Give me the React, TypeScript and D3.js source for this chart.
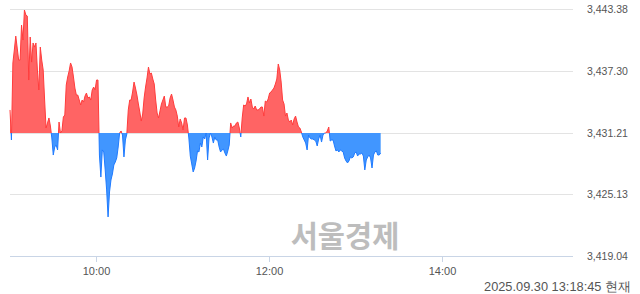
import React from "react";
import * as d3 from "d3";

// minutes since 09:00, one value per minute (09:00 .. 13:17)
const startMinute = 0;
const values: number[] = [
  3433.48, 3430.52, 3438.11, 3439.39, 3440.76, 3439.58, 3438.40, 3438.40, 3441.85, 3440.37,
  3443.33, 3442.83, 3442.73, 3436.43, 3440.67, 3438.20, 3440.08, 3439.68, 3440.08, 3437.42,
  3435.45, 3439.68, 3438.40, 3437.42, 3434.46, 3431.70, 3432.20, 3432.69, 3431.90, 3430.72,
  3429.04, 3429.83, 3430.03, 3429.54, 3432.29, 3431.21, 3431.41, 3432.79, 3432.98, 3435.94,
  3436.73, 3437.32, 3438.11, 3437.71, 3436.73, 3435.64, 3434.95, 3434.95, 3434.46, 3433.97,
  3434.46, 3434.26, 3434.85, 3435.15, 3434.66, 3434.76, 3434.46, 3435.45, 3435.74, 3435.45,
  3436.43, 3436.43, 3429.04, 3426.87, 3429.54, 3429.34, 3427.57, 3425.60, 3422.94, 3425.40,
  3426.58, 3427.17, 3428.06, 3428.35, 3428.75, 3429.83, 3431.21, 3431.41, 3431.01, 3428.85,
  3430.52, 3431.11, 3433.48, 3434.46, 3434.46, 3435.25, 3436.23, 3435.64, 3434.95, 3434.07,
  3433.28, 3432.39, 3433.08, 3434.66, 3435.74, 3436.63, 3437.71, 3437.02, 3437.12, 3436.53,
  3436.04, 3434.46, 3433.18, 3432.69, 3433.38, 3434.07, 3434.46, 3434.85, 3433.77, 3433.77,
  3433.87, 3434.66, 3435.05, 3434.46, 3433.77, 3433.48, 3432.88, 3431.80, 3432.59, 3432.20,
  3431.51, 3432.69, 3432.69, 3432.00, 3430.72, 3428.94, 3428.16, 3427.37, 3427.76, 3428.45,
  3429.44, 3429.34, 3430.22, 3429.83, 3430.82, 3430.62, 3431.21, 3428.55, 3430.72, 3431.21,
  3430.82, 3430.22, 3430.82, 3430.52, 3430.52, 3429.83, 3429.34, 3429.54, 3429.63, 3429.24,
  3428.94, 3429.44, 3430.03, 3432.20, 3431.70, 3431.90, 3431.90, 3432.20, 3432.29, 3431.70,
  3430.82, 3432.69, 3433.97, 3433.87, 3434.07, 3434.76, 3434.17, 3434.56, 3433.77, 3433.57,
  3433.87, 3433.48, 3433.48, 3433.57, 3433.77, 3433.77, 3432.88, 3434.36, 3434.26, 3434.56,
  3435.15, 3435.25, 3435.45, 3435.64, 3436.04, 3436.53, 3438.01, 3437.42, 3436.23, 3434.46,
  3434.07, 3432.88, 3433.18, 3432.49, 3432.29, 3432.49, 3432.00, 3432.59, 3432.88, 3432.29,
  3431.80, 3431.70, 3431.31, 3430.82, 3430.52, 3430.22, 3429.54, 3431.01, 3430.72, 3430.62,
  3430.62, 3430.52, 3430.42, 3429.93, 3430.62, 3431.01, 3430.32, 3431.01, 3431.21, 3431.21,
  3431.41, 3431.80, 3430.42, 3430.52, 3430.52, 3429.93, 3429.44, 3429.54, 3429.34, 3429.54,
  3429.44, 3429.34, 3428.75, 3428.45, 3428.26, 3428.45, 3428.85, 3428.75, 3428.85, 3429.24,
  3429.34, 3428.94, 3429.14, 3429.14, 3429.24, 3428.94, 3427.57, 3428.55, 3428.85, 3429.04,
  3428.75, 3427.76, 3429.04, 3429.34, 3429.44, 3429.04, 3429.04, 3429.24,
];

const previousClose = 3431.21;
const yTicks = [3443.38, 3437.3, 3431.21, 3425.13, 3419.04];
const xTicks = [60, 180, 300];
const xTickLabels = ["10:00", "12:00", "14:00"];
const sessionMinutes = 390;
const stampText = "2025.09.30 13:18:45 현재";
const watermark = "서울경제";

const W = 640;
const H = 294;

export default function App() {
  const x = d3.scaleLinear().domain([0, sessionMinutes]).range([10, 572.5]);
  const y = d3.scaleLinear().domain([3419.04, 3443.38]).range([256.5, 9.5]);
  const data = values.map((v, i) => ({ t: startMinute + i, v }));
  const baseY = y(previousClose);

  const area = d3
    .area<{ t: number; v: number }>()
    .x((d) => x(d.t))
    .y0(baseY)
    .y1((d) => y(d.v));
  const line = d3
    .line<{ t: number; v: number }>()
    .x((d) => x(d.t))
    .y((d) => y(d.v));

  const areaPath = area(data) || "";
  const linePath = line(data) || "";
  const fmt = d3.format(",.2f");

  return (
    <svg
      width={W}
      height={H}
      style={{ position: "absolute", left: 0, top: 0, display: "block", background: "#fff" }}
    >
      <defs>
        <clipPath id="clipUp">
          <rect x={0} y={0} width={W} height={baseY} />
        </clipPath>
        <clipPath id="clipDown">
          <rect x={0} y={baseY} width={W} height={H - baseY} />
        </clipPath>
      </defs>

      {yTicks.slice(0, 4).map((t) => {
        const yy = Math.round(y(t) - 0.5) + 0.5;
        return (
          <line key={t} x1={10} x2={573} y1={yy} y2={yy} stroke="#e3e3e3" strokeWidth={1} />
        );
      })}

      <g clipPath="url(#clipUp)">
        <path d={areaPath} fill="#ff6464" />
        <path d={linePath} fill="none" stroke="#ff3c3c" strokeWidth={1} />
      </g>
      <g clipPath="url(#clipDown)">
        <path d={areaPath} fill="#4196ff" />
        <path d={linePath} fill="none" stroke="#1f7bff" strokeWidth={1} />
      </g>

      <text
        x={345}
        y={246.5}
        textAnchor="middle"
        fontFamily="'Noto Sans CJK KR', sans-serif"
        fontWeight={700}
        fontSize={29.5}
        fill="#bdbdbd"
      >
        {watermark}
      </text>

      <line x1={10} x2={573} y1={256.5} y2={256.5} stroke="#c9d5e6" strokeWidth={1} />
      {xTicks.map((t, i) => {
        const xx = Math.round(x(t) - 0.5) + 0.5;
        return (
          <g key={t}>
            <line x1={xx} x2={xx} y1={256.5} y2={262} stroke="#c9d5e6" strokeWidth={1} />
            <text
              x={xx}
              y={275}
              textAnchor="middle"
              fontFamily="'Liberation Sans', Arial, sans-serif"
              fontSize={11}
              fill="#555"
            >
              {xTickLabels[i]}
            </text>
          </g>
        );
      })}

      {yTicks.map((t) => (
        <text
          key={t}
          x={587}
          y={y(t) + 3.8}
          fontFamily="'Liberation Sans', Arial, sans-serif"
          fontSize={10.5}
          fill="#555"
        >
          {fmt(t)}
        </text>
      ))}

      <text
        x={631}
        y={291}
        textAnchor="end"
        fontFamily="'Liberation Sans', Arial, sans-serif"
        fontSize={12.8}
        fill="#555"
      >
        {stampText}
      </text>
    </svg>
  );
}
